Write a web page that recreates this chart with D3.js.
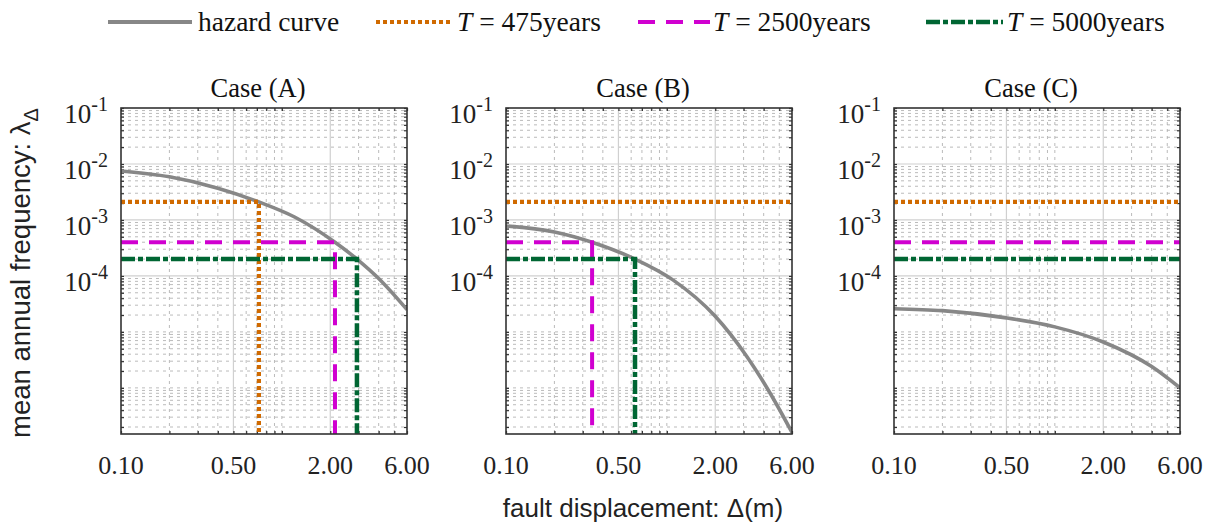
<!DOCTYPE html>
<html>
<head>
<meta charset="utf-8">
<script src="https://cdn.jsdelivr.net/npm/d3@7"></script>
<style>
  html, body { margin: 0; padding: 0; background: #fff; }
  svg { display: block; }
</style>
</head>
<body>
<svg id="chart" width="1208" height="526"></svg>
<script>
// ---------------- data ----------------
const panelTitles = ["Case (A)", "Case (B)", "Case (C)"];
const xTickValues = [0.1, 0.5, 2, 6];
const xTickLabels = ["0.10", "0.50", "2.00", "6.00"];
const yTickValues = [1e-1, 1e-2, 1e-3, 1e-4];
const yTickExponents = ["-1", "-2", "-3", "-4"];
const returnPeriods = [475, 2500, 5000];
const returnLabels = ["475years", "2500years", "5000years"];

// hazard curves (displacement in m, mean annual frequency)
const dispA   = [0.1, 0.2, 0.4, 0.72, 1.2, 2.14, 2.93, 4, 6];
const lambdaA = [7.5e-3, 5.9e-3, 3.7e-3, 2.1e-3, 1.13e-3, 4e-4, 2e-4, 9e-5, 2.5e-5];
const dispB   = [0.1, 0.2, 0.343, 0.634, 1.09, 2.0, 3.15, 4.38, 6];
const lambdaB = [7.8e-4, 6.1e-4, 4e-4, 2e-4, 8.5e-5, 1.9e-5, 3.6e-6, 8.1e-7, 1.6e-7];
const dispC   = [0.1, 0.2, 0.5, 1, 2, 4, 6];
const lambdaC = [2.6e-5, 2.4e-5, 1.78e-5, 1.23e-5, 6.6e-6, 2.4e-6, 1e-6];

// displacement where each return-period level crosses the curve (null = no crossing)
const crossA = [0.72, 2.14, 2.93];
const crossB = [null, 0.343, 0.634];
const crossC = [null, null, null];

const xDomain = [0.1, 6];
const yDomain = [1.5e-7, 1e-1];

// ---------------- layout / style ----------------
const svg = d3.select("#chart");
const plotTop = 108, plotBottom = 434, plotW = 286;
const panelLefts = [121, 506, 894];
const serif = "'Liberation Serif', 'Times New Roman', serif";
const sans = "'Liberation Sans', Arial, sans-serif";

const lineStyles = [
  { color: "#d06a00", dash: "4,3", width: 4.2 },
  { color: "#d000d0", dash: "17,11", width: 4 },
  { color: "#006633", dash: "14,3,5,3", width: 4.5 }
];
const curveColor = "#878787";

const curves = [
  { x: dispA, y: lambdaA, cross: crossA },
  { x: dispB, y: lambdaB, cross: crossB },
  { x: dispC, y: lambdaC, cross: crossC }
];

const y = d3.scaleLog().domain(yDomain).range([plotBottom, plotTop]);

// minor positions
const minorY = [];
for (let e = -7; e <= -2; e++) for (let k = 1; k <= 9; k++) {
  const v = k * Math.pow(10, e);
  if (v > yDomain[0] && v < yDomain[1] && !yTickValues.includes(v)) minorY.push(v);
}
const minorX = [0.2, 0.3, 0.4, 0.6, 0.7, 0.8, 0.9, 1, 3, 4, 5];

curves.forEach((c, i) => {
  const left = panelLefts[i];
  const x = d3.scaleLog().domain(xDomain).range([left, left + plotW]);
  const g = svg.append("g");

  const clipId = "clip" + i;
  svg.append("clipPath").attr("id", clipId).append("rect")
    .attr("x", left).attr("y", plotTop).attr("width", plotW).attr("height", plotBottom - plotTop);

  // minor grid
  g.append("g").selectAll("line").data(minorY).join("line")
    .attr("x1", left).attr("x2", left + plotW)
    .attr("y1", d => y(d)).attr("y2", d => y(d))
    .attr("stroke", "#aaaaaa").attr("stroke-width", 0.8).attr("stroke-dasharray", "3,4");
  g.append("g").selectAll("line").data(minorX).join("line")
    .attr("y1", plotTop).attr("y2", plotBottom)
    .attr("x1", d => x(d)).attr("x2", d => x(d))
    .attr("stroke", "#aaaaaa").attr("stroke-width", 0.8).attr("stroke-dasharray", "3,4");
  // major grid
  g.append("g").selectAll("line").data(yTickValues.slice(1)).join("line")
    .attr("x1", left).attr("x2", left + plotW)
    .attr("y1", d => y(d)).attr("y2", d => y(d))
    .attr("stroke", "#d0d0d0").attr("stroke-width", 1.2);
  g.append("g").selectAll("line").data(xTickValues.slice(1, 3)).join("line")
    .attr("y1", plotTop).attr("y2", plotBottom)
    .attr("x1", d => x(d)).attr("x2", d => x(d))
    .attr("stroke", "#d0d0d0").attr("stroke-width", 1.2);

  // axes ticks (inward)
  const axL = d3.axisRight(y).tickValues(minorY.concat(yTickValues)).tickSize(3).tickFormat("");
  const axR = d3.axisLeft(y).tickValues(minorY.concat(yTickValues)).tickSize(3).tickFormat("");
  const axB = d3.axisTop(x).tickValues(minorX.concat(xTickValues)).tickSize(3).tickFormat("");
  const axT = d3.axisBottom(x).tickValues(minorX.concat(xTickValues)).tickSize(3).tickFormat("");
  [[axL, `translate(${left},0)`], [axR, `translate(${left + plotW},0)`],
   [axB, `translate(0,${plotBottom})`], [axT, `translate(0,${plotTop})`]].forEach(([ax, tr]) => {
    const a = g.append("g").attr("transform", tr).call(ax);
    a.select(".domain").remove();
    a.selectAll(".tick line").attr("stroke", "#333").attr("stroke-width", 1.2);
  });

  // hazard curve
  const line = d3.line().x(d => x(d[0])).y(d => y(d[1])).curve(d3.curveMonotoneX);
  g.append("path").datum(c.x.map((v, j) => [v, c.y[j]]))
    .attr("clip-path", `url(#${clipId})`)
    .attr("d", line).attr("fill", "none")
    .attr("stroke", curveColor).attr("stroke-width", 3.6);

  // return-period lines
  returnPeriods.forEach((T, k) => {
    const lam = 1 / T;
    const st = lineStyles[k];
    const xc = c.cross[k];
    const xEnd = xc === null ? xDomain[1] : xc;
    const pts = [[xDomain[0], lam], [xEnd, lam]];
    if (xc !== null) pts.push([xc, yDomain[0]]);
    g.append("path").datum(pts)
      .attr("clip-path", `url(#${clipId})`)
      .attr("d", d3.line().x(d => x(d[0])).y(d => y(d[1])))
      .attr("fill", "none").attr("stroke", st.color)
      .attr("stroke-width", st.width).attr("stroke-dasharray", st.dash);
  });

  // frame
  g.append("rect").attr("x", left).attr("y", plotTop)
    .attr("width", plotW).attr("height", plotBottom - plotTop)
    .attr("fill", "none").attr("stroke", "#333").attr("stroke-width", 1.6);

  // title
  g.append("text").attr("x", left + plotW / 2 - 6).attr("y", 97)
    .attr("text-anchor", "middle").attr("font-family", serif).attr("font-size", 26.5)
    .attr("fill", "#111").text(panelTitles[i]);

  // x tick labels
  g.append("g").selectAll("text").data(xTickValues).join("text")
    .attr("x", d => x(d)).attr("y", 474)
    .attr("text-anchor", "middle").attr("font-family", serif).attr("font-size", 26)
    .attr("fill", "#222").text((d, j) => xTickLabels[j]);

  // y tick labels
  const yl = g.append("g").selectAll("text").data(yTickValues).join("text")
    .attr("x", left - 13).attr("y", d => y(d) + 15)
    .attr("text-anchor", "end").attr("font-family", serif).attr("font-size", 27)
    .attr("fill", "#222");
  yl.append("tspan").text("10");
  yl.append("tspan").attr("dy", -12).attr("font-size", 20).text((d, j) => yTickExponents[j]);
});

// axis titles
svg.append("text")
  .attr("transform", `translate(30,${(plotTop + plotBottom) / 2 + 2}) rotate(-90)`)
  .attr("text-anchor", "middle").attr("font-family", sans).attr("font-size", 27.5)
  .attr("fill", "#222")
  .call(t => {
    t.append("tspan").text("mean annual frequency: ");
    t.append("tspan").text("λ");
    t.append("tspan").attr("dy", 8).attr("font-size", 20).text("Δ");
  });

svg.append("text").attr("x", 643).attr("y", 517)
  .attr("text-anchor", "middle").attr("font-family", sans).attr("font-size", 26)
  .attr("fill", "#222").text("fault displacement: Δ(m)");

// legend
const legend = svg.append("g");
const legendItems = [
  { x0: 108, x1: 192, tx: 198, color: curveColor, dash: null, width: 4, label: null, text: "hazard curve" },
  { x0: 376, x1: 452, tx: 457, color: lineStyles[0].color, dash: lineStyles[0].dash, width: lineStyles[0].width, label: returnLabels[0] },
  { x0: 638, x1: 710, tx: 713, color: lineStyles[1].color, dash: lineStyles[1].dash, width: lineStyles[1].width, label: returnLabels[1] },
  { x0: 926, x1: 1003, tx: 1007, color: lineStyles[2].color, dash: lineStyles[2].dash, width: lineStyles[2].width, label: returnLabels[2] }
];
legendItems.forEach(it => {
  legend.append("line").attr("x1", it.x0).attr("x2", it.x1).attr("y1", 22).attr("y2", 22)
    .attr("stroke", it.color).attr("stroke-width", it.width)
    .attr("stroke-dasharray", it.dash);
  const t = legend.append("text").attr("x", it.tx).attr("y", 31)
    .attr("font-family", serif).attr("font-size", 27.5).attr("fill", "#111");
  if (it.text) t.text(it.text);
  else {
    t.append("tspan").attr("font-style", "italic").text("T");
    t.append("tspan").text(" = " + it.label);
  }
});
</script>
</body>
</html>
